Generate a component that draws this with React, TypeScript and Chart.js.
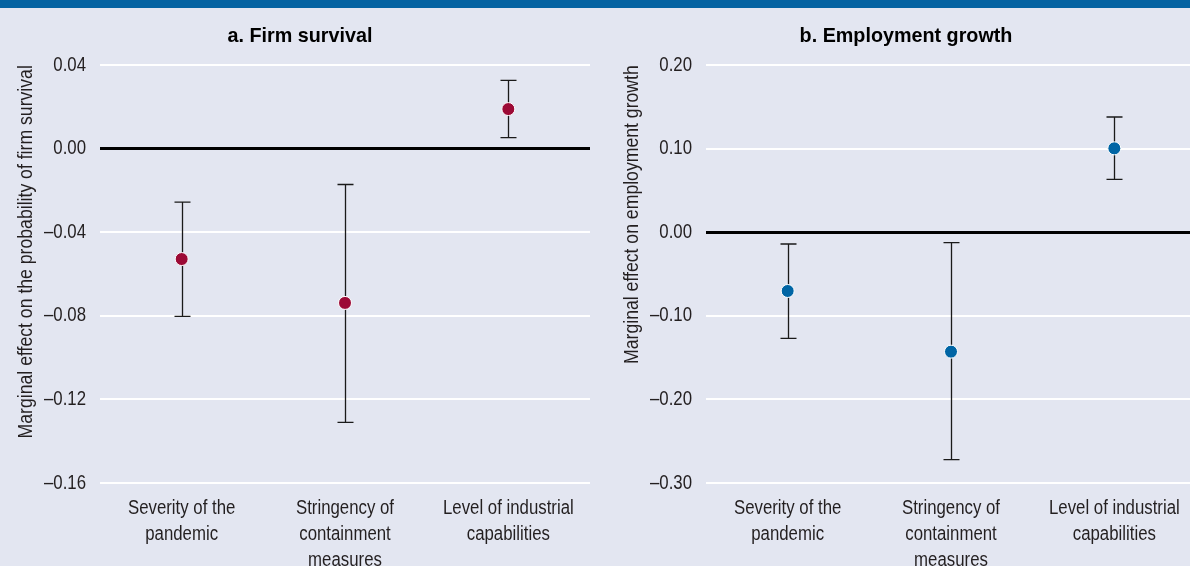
import React, { useEffect, useRef } from "react";
import { Chart, registerables } from "chart.js";

Chart.register(...registerables);

// Shared x-axis categories (multi-line labels)
const categories: string[][] = [
  ["Severity of the", "pandemic"],
  ["Stringency of", "containment", "measures"],
  ["Level of industrial", "capabilities"],
];

// Panel a: firm survival — point estimates and confidence bounds
const survivalEstimate = [-0.0528, -0.0738, 0.019];
const survivalLower = [-0.0802, -0.131, 0.0053];
const survivalUpper = [-0.0255, -0.0171, 0.0327];
const survivalTicks = [-0.16, -0.12, -0.08, -0.04, 0.0, 0.04];

// Panel b: employment growth — point estimates and confidence bounds
const employmentEstimate = [-0.0702, -0.1428, 0.1005];
const employmentLower = [-0.127, -0.272, 0.0634];
const employmentUpper = [-0.014, -0.0124, 0.138];
const employmentTicks = [-0.3, -0.2, -0.1, 0.0, 0.1, 0.2];

const FONT = "'Liberation Sans', Arial, sans-serif";
const BG = "#e3e6f1";

// Narrow the glyphs horizontally around their anchor so text renders in a condensed style
function condenseText(ctx: CanvasRenderingContext2D) {
  const original = ctx.fillText.bind(ctx);
  (ctx as any).fillText = (text: string, x: number, y: number, maxWidth?: number) => {
    const sx = /bold/.test(ctx.font) ? 0.94 : 0.84;
    ctx.save();
    ctx.translate(x, y);
    ctx.scale(sx, 1);
    if (maxWidth !== undefined) original(text, 0, 0, maxWidth / sx);
    else original(text, 0, 0);
    ctx.restore();
  };
}

// Draws vertical whiskers with caps from the lower/upper arrays
const errorBarPlugin = {
  id: "errorBars",
  beforeDatasetsDraw(chart: any, _args: any, opts: any) {
    const { ctx } = chart;
    const x = chart.scales.x;
    const y = chart.scales.y;
    ctx.save();
    ctx.strokeStyle = opts.color || "#1a1a1a";
    ctx.lineWidth = 1.3;
    const cap = 8;
    (opts.lower as number[]).forEach((lo, i) => {
      const px = Math.round(x.getPixelForValue(i)) + 0.5;
      const y1 = y.getPixelForValue(lo);
      const y2 = y.getPixelForValue(opts.upper[i]);
      ctx.beginPath();
      ctx.moveTo(px, y1);
      ctx.lineTo(px, y2);
      ctx.moveTo(px - cap, y1);
      ctx.lineTo(px + cap, y1);
      ctx.moveTo(px - cap, y2);
      ctx.lineTo(px + cap, y2);
      ctx.stroke();
    });
    ctx.restore();
  },
};

type PanelProps = {
  title: string;
  yTitle: string;
  estimate: number[];
  lower: number[];
  upper: number[];
  ticks: number[];
  color: string;
  left: number;
};

function fmt(v: number): string {
  const s = Math.abs(v).toFixed(2);
  return v < -1e-9 ? "\u2013" + s : s;
}

function Panel(props: PanelProps) {
  const ref = useRef<HTMLCanvasElement | null>(null);

  useEffect(() => {
    if (!ref.current) return;
    const ctx2d = ref.current.getContext("2d");
    if (ctx2d) condenseText(ctx2d);
    const { title, yTitle, estimate, lower, upper, ticks, color } = props;
    const chart = new Chart(ref.current, {
      type: "scatter",
      data: {
        datasets: [
          {
            data: estimate.map((v, i) => ({ x: i, y: v })),
            backgroundColor: color,
            borderColor: "#ffffff",
            borderWidth: 1,
            pointRadius: 6.5,
            pointHoverRadius: 6.5,
          },
        ],
      },
      plugins: [errorBarPlugin],
      options: {
        responsive: false,
        animation: false,
        events: [],
        layout: { padding: { left: 10, right: 10, top: 0, bottom: 0 } },
        plugins: {
          legend: { display: false },
          tooltip: { enabled: false },
          title: {
            display: true,
            text: title,
            color: "#000",
            font: { family: FONT, size: 21, weight: "bold", lineHeight: 1.2 },
            padding: { top: 16, bottom: 16 },
          },
          errorBars: { lower, upper, color: "#1a1a1a" },
        } as any,
        scales: {
          x: {
            type: "linear",
            min: -0.5,
            max: 2.5,
            afterBuildTicks: (s: any) => {
              s.ticks = categories.map((_, i) => ({ value: i }));
            },
            afterFit: (s: any) => {
              s.height = 83;
            },
            grid: { display: false, drawTicks: false },
            border: { display: false },
            ticks: {
              autoSkip: false,
              maxRotation: 0,
              padding: 12,
              color: "#231f20",
              font: { family: FONT, size: 20, lineHeight: 1.3 },
              callback: (v: any) => categories[Math.round(Number(v))] || "",
            },
          },
          y: {
            min: ticks[0],
            max: ticks[ticks.length - 1],
            afterBuildTicks: (s: any) => {
              s.ticks = ticks.map((v) => ({ value: v }));
            },
            afterFit: (s: any) => {
              s.width = 90;
            },
            grid: {
              drawTicks: false,
              color: (c: any) => (c.tick && Math.abs(c.tick.value) < 1e-9 ? "#000000" : "#ffffff"),
              lineWidth: (c: any) => (c.tick && Math.abs(c.tick.value) < 1e-9 ? 3 : 2),
            },
            border: { display: false },
            ticks: {
              padding: 14,
              color: "#231f20",
              font: { family: FONT, size: 20 },
              callback: (v: any) => fmt(Number(v)),
            },
            title: {
              display: true,
              text: yTitle,
              align: "end",
              color: "#231f20",
              font: { family: FONT, size: 21, lineHeight: 1.2 },
              padding: { top: 4, bottom: 0 },
            },
          },
        },
      } as any,
    });
    return () => chart.destroy();
  }, []);

  return (
    <div style={{ position: "absolute", top: 8, left: props.left, width: 600, height: 558 }}>
      <canvas ref={ref} width={600} height={558} style={{ display: "block" }} />
    </div>
  );
}

export default function App() {
  return (
    <div
      style={{
        position: "fixed",
        left: 0,
        top: 0,
        width: 1190,
        height: 566,
        overflow: "hidden",
        background: BG,
      }}
    >
      <div style={{ position: "absolute", left: 0, top: 0, width: 1190, height: 8, background: "#0563a2" }} />
      <Panel
        title="a. Firm survival"
        yTitle="Marginal effect on the probability of firm survival"
        estimate={survivalEstimate}
        lower={survivalLower}
        upper={survivalUpper}
        ticks={survivalTicks}
        color="#9c0a36"
        left={0}
      />
      <Panel
        title="b. Employment growth"
        yTitle="Marginal effect on employment growth"
        estimate={employmentEstimate}
        lower={employmentLower}
        upper={employmentUpper}
        ticks={employmentTicks}
        color="#0065a5"
        left={606}
      />
    </div>
  );
}
